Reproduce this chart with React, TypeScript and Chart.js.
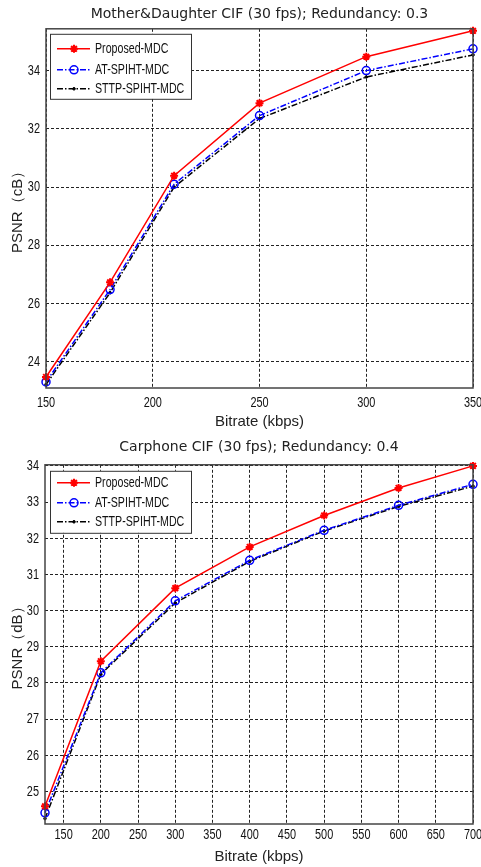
import React, { useEffect, useRef } from "react";
import { Chart, registerables } from "chart.js";
Chart.register(...registerables);

// ---- Data: Mother&Daughter ----
const md_title = "Mother&Daughter CIF (30 fps); Redundancy: 0.3";
const md_yTitle = "PSNR（cB）";
const md_bitrate = [150, 180, 210, 250, 300, 350];
const md_proposed = [23.46, 26.72, 30.39, 32.89, 34.49, 35.38];
const md_at = [23.29, 26.47, 30.1, 32.46, 34.01, 34.76];
const md_sttp = [23.2, 26.36, 30.0, 32.36, 33.79, 34.55];

// ---- Data: Carphone ----
const cp_title = "Carphone CIF (30 fps); Redundancy: 0.4";
const cp_yTitle = "PSNR（dB）";
const cp_bitrate = [125, 200, 300, 400, 500, 600, 700];
const cp_proposed = [24.59, 28.6, 30.62, 31.76, 32.63, 33.39, 34.0];
const cp_at = [24.41, 28.28, 30.27, 31.39, 32.22, 32.91, 33.49];
const cp_sttp = [24.25, 28.24, 30.21, 31.36, 32.2, 32.88, 33.44];

const seriesNames = ["Proposed-MDC", "AT-SPIHT-MDC", "STTP-SPIHT-MDC"];
const xTitle = "Bitrate (kbps)";

const TITLE_FONT = "'DejaVu Sans', Verdana, sans-serif";
const LABEL_FONT = "'Liberation Sans', Arial, sans-serif";
const NARROW = 0.78;

const styles = [
  { color: "#ff0000", dash: [] as number[], point: "star", radius: 4, pw: 2 },
  { color: "#0000ff", dash: [6, 2, 1.5, 2], point: "circle", radius: 4, pw: 1.5 },
  { color: "#000000", dash: [6, 2, 1.5, 2], point: "circle", radius: 1.3, pw: 1 },
];

function makeDatasets(x: number[], ys: number[][]) {
  return ys.map((y, i) => ({
    label: seriesNames[i],
    data: x.map((v, k) => ({ x: v, y: y[k] })),
    borderColor: styles[i].color,
    backgroundColor: i === 2 ? "#000" : "rgba(0,0,0,0)",
    borderWidth: 1.5,
    borderDash: styles[i].dash,
    pointStyle: styles[i].point,
    pointRadius: styles[i].radius,
    pointBorderWidth: styles[i].pw,
    pointBorderColor: styles[i].color,
    pointBackgroundColor: i === 2 ? "#000" : "rgba(0,0,0,0)",
    tension: 0,
    clip: false,
  }));
}

function drawMarker(ctx: CanvasRenderingContext2D, i: number, x: number, y: number) {
  const s = styles[i];
  ctx.save();
  ctx.setLineDash([]);
  ctx.strokeStyle = s.color;
  ctx.lineWidth = s.pw;
  ctx.beginPath();
  if (s.point === "star") {
    const r = s.radius;
    ctx.moveTo(x - r, y); ctx.lineTo(x + r, y);
    ctx.moveTo(x, y - r); ctx.lineTo(x, y + r);
    const d = r * 0.7071;
    ctx.moveTo(x - d, y - d); ctx.lineTo(x + d, y + d);
    ctx.moveTo(x - d, y + d); ctx.lineTo(x + d, y - d);
    ctx.stroke();
  } else {
    ctx.arc(x, y, s.radius, 0, Math.PI * 2);
    if (i === 2) { ctx.fillStyle = s.color; ctx.fill(); }
    ctx.stroke();
  }
  ctx.restore();
}

function narrowText(ctx: CanvasRenderingContext2D, text: string, x: number, y: number, align: "left" | "center" | "right", baseline: CanvasTextBaseline) {
  ctx.save();
  ctx.translate(x, y);
  ctx.scale(NARROW, 1);
  ctx.textAlign = align;
  ctx.textBaseline = baseline;
  ctx.fillText(text, 0, 0);
  ctx.restore();
}

const boxLegendPlugin = {
  id: "boxLegend",
  afterDraw(chart: any, _args: any, opts: any) {
    const { ctx, chartArea } = chart;
    ctx.save();
    // tick labels (narrow font), positions from library scales
    ctx.font = "14px " + LABEL_FONT;
    ctx.fillStyle = "#111";
    const xs = chart.scales.x;
    xs.ticks.forEach((t: any) => {
      const px = xs.getPixelForValue(t.value);
      narrowText(ctx, String(t.value), px, chartArea.bottom + opts.xTickPad, "center", "top");
    });
    const ysc = chart.scales.y;
    ysc.ticks.forEach((t: any) => {
      const py = ysc.getPixelForValue(t.value);
      narrowText(ctx, String(t.value), chartArea.left - 6, py + 0.5, "right", "middle");
    });
    // plot box
    ctx.strokeStyle = "#444";
    ctx.lineWidth = 1.5;
    ctx.setLineDash([]);
    ctx.strokeRect(chartArea.left, chartArea.top, chartArea.right - chartArea.left, chartArea.bottom - chartArea.top);
    // legend box
    const bx = chartArea.left + opts.dx;
    const by = chartArea.top + opts.dy;
    const bw = 141;
    const bh = opts.h;
    ctx.fillStyle = "#fff";
    ctx.fillRect(bx, by, bw, bh);
    ctx.strokeStyle = "#333";
    ctx.lineWidth = 1;
    ctx.strokeRect(bx + 0.5, by + 0.5, bw, bh);
    opts.rows.forEach((ry: number, i: number) => {
      const y = by + ry;
      const s = styles[i];
      ctx.strokeStyle = s.color;
      ctx.lineWidth = 1.5;
      ctx.setLineDash(s.dash);
      ctx.beginPath();
      ctx.moveTo(bx + 7, y);
      ctx.lineTo(bx + 40, y);
      ctx.stroke();
      ctx.setLineDash([]);
      drawMarker(ctx, i, bx + 24, y);
      ctx.font = "14px " + LABEL_FONT;
      ctx.fillStyle = "#111";
      ctx.save();
      ctx.translate(bx + 45, y + 0.5);
      ctx.scale(0.76, 1);
      ctx.textAlign = "left";
      ctx.textBaseline = "middle";
      ctx.fillText(seriesNames[i], 0, 0);
      ctx.restore();
    });
    ctx.restore();
  },
};

function makeConfig(p: {
  title: string;
  yTitle: string;
  x: number[];
  ys: number[][];
  xmin: number;
  xmax: number;
  ymin: number;
  ymax: number;
  ystep: number;
  yWidth: number;
  xHeight: number;
  tickPadX: number;
  titlePad: { top: number; bottom: number };
  legend: { dx: number; dy: number; h: number; rows: number[] };
}) {
  return {
    type: "line",
    data: { datasets: makeDatasets(p.x, p.ys) },
    plugins: [boxLegendPlugin],
    options: {
      animation: false,
      responsive: false,
      maintainAspectRatio: false,
      layout: { padding: { left: 0, right: 8, top: 0, bottom: 0 } },
      plugins: {
        legend: { display: false },
        tooltip: { enabled: false },
        title: {
          display: true,
          text: p.title,
          fullSize: false,
          color: "#222",
          font: { family: TITLE_FONT, size: 14, weight: "normal" },
          padding: p.titlePad,
        },
        boxLegend: { ...p.legend, xTickPad: p.tickPadX },
      },
      scales: {
        x: {
          type: "linear",
          min: p.xmin,
          max: p.xmax,
          afterFit: (s: any) => {
            s.height = p.xHeight;
            s.paddingRight = 0;
            s.paddingLeft = 0;
          },
          ticks: {
            display: false,
            stepSize: 50,
            includeBounds: false,
            autoSkip: false,
            maxRotation: 0,
          },
          grid: { color: "#222", lineWidth: 1, drawTicks: false },
          border: { display: false, dash: [3, 2] },
          title: {
            display: true,
            text: xTitle,
            color: "#222",
            font: { family: LABEL_FONT, size: 15 },
            padding: { top: 0, bottom: 1 },
          },
        },
        y: {
          type: "linear",
          min: p.ymin,
          max: p.ymax,
          afterFit: (s: any) => {
            s.width = p.yWidth;
            s.paddingTop = 0;
            s.paddingBottom = 0;
          },
          ticks: {
            display: false,
            stepSize: p.ystep,
            includeBounds: false,
          },
          grid: { color: "#222", lineWidth: 1, drawTicks: false },
          border: { display: false, dash: [3, 2] },
          title: {
            display: true,
            text: p.yTitle,
            color: "#222",
            font: { family: LABEL_FONT, size: 15 },
            padding: { top: 9, bottom: 0 },
          },
        },
      },
    },
  };
}

function ChartCanvas({ config, top, height }: { config: any; top: number; height: number }) {
  const ref = useRef<HTMLCanvasElement | null>(null);
  useEffect(() => {
    if (!ref.current) return;
    const chart = new Chart(ref.current, config);
    return () => chart.destroy();
  }, []);
  return (
    <canvas
      ref={ref}
      width={481}
      height={height}
      style={{ position: "absolute", left: 0, top, width: 481, height, display: "block" }}
    />
  );
}

export default function App() {
  const top = makeConfig({
    title: md_title,
    yTitle: md_yTitle,
    x: md_bitrate,
    ys: [md_proposed, md_at, md_sttp],
    xmin: 150,
    xmax: 350,
    ymin: 23.08,
    ymax: 35.45,
    ystep: 2,
    yWidth: 46,
    xHeight: 44,
    tickPadX: 8,
    titlePad: { top: 6, bottom: 6 },
    legend: { dx: 4, dy: 5, h: 65, rows: [15, 36, 55] },
  });
  const bottom = makeConfig({
    title: cp_title,
    yTitle: cp_yTitle,
    x: cp_bitrate,
    ys: [cp_proposed, cp_at, cp_sttp],
    xmin: 125,
    xmax: 700,
    ymin: 24.1,
    ymax: 34.03,
    ystep: 1,
    yWidth: 45,
    xHeight: 43,
    tickPadX: 4,
    titlePad: { top: 7, bottom: 9 },
    legend: { dx: 5, dy: 6, h: 62, rows: [12, 32, 51] },
  });
  return (
    <div style={{ position: "absolute", left: 0, top: 0, width: 481, height: 867, overflow: "hidden" }}>
      <ChartCanvas config={top} top={0} height={432} />
      <ChartCanvas config={bottom} top={432} height={435} />
    </div>
  );
}
